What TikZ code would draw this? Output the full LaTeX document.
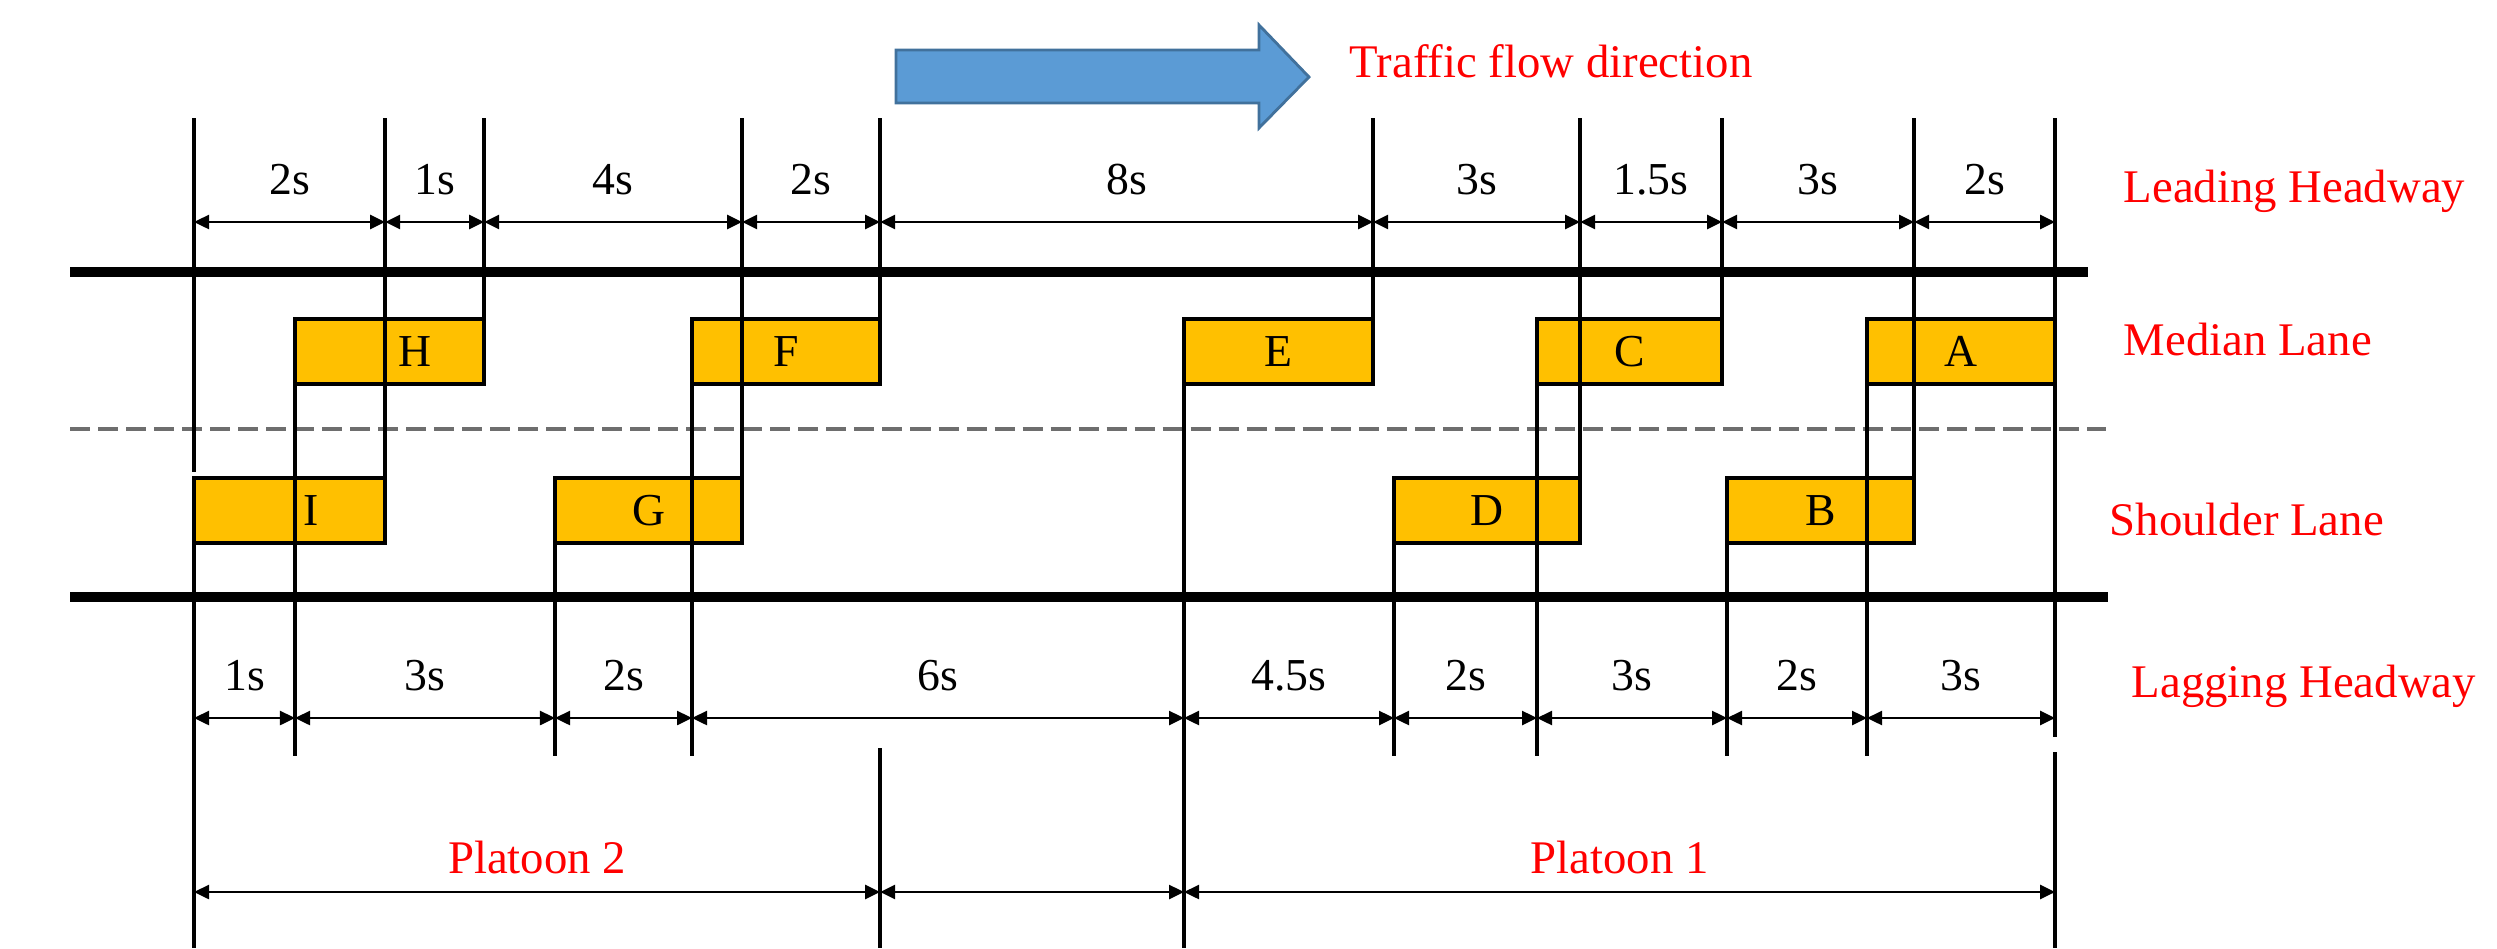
\documentclass[tikz,border=0pt]{standalone}
\usepackage{fontspec}
\setmainfont{Liberation Serif}
\usetikzlibrary{arrows.meta,positioning}
\definecolor{carfill}{HTML}{FFC000}
\definecolor{flowblue}{HTML}{5B9BD5}
\definecolor{flowedge}{HTML}{41719C}
\definecolor{lanegray}{HTML}{6E6E6E}

\begin{document}
\begin{tikzpicture}[x=0.01cm, y=-0.01cm, >={Triangle[length=1.5mm,width=1.4mm]},
  car/.style={draw, line width=1.3pt, fill=carfill, minimum height=0.65cm, anchor=south west,
    inner sep=0pt, outer sep=0pt, font=\fontsize{13}{15}\selectfont},
  vl/.style={line width=1.3pt},
  road/.style={line width=2.8pt},
  lane/.style={draw=lanegray, line width=1.1pt, dash pattern=on 2mm off 0.8mm},
  dim/.style={<->, line width=0.7pt},
  num/.style={midway, anchor=base, yshift=0.27cm, font=\fontsize{13}{15}\selectfont},
  ptag/.style={midway, anchor=base, yshift=0.19cm, text=red, font=\fontsize{13.3}{16}\selectfont},
  tag/.style={anchor=base west, inner sep=0pt, text=red, font=\fontsize{13.3}{16}\selectfont}]
\useasboundingbox (0,0) rectangle (2497,948);
\coordinate (yt) at (0,118); \coordinate (lt) at (0,222);
\coordinate (lb) at (0,718); \coordinate (le) at (0,756);
\coordinate (pl) at (0,892); \coordinate (bot) at (0,948);
\coordinate (ya) at (0,737); \coordinate (yb) at (0,752); \coordinate (yc) at (0,748);

% road edges and lane marking
\draw[road] (70,272) -- (2088,272);
\draw[road] (70,597) -- (2108,597);
\draw[lane] (70,429) -- (2106,429);

% vehicles
\node[car, minimum width=1.91cm] (I) at (194,543) {\hspace*{4.4mm}I};
\node[car, minimum width=1.89cm] (H) at (295,384) {\hspace*{5mm}H};
\node[car, minimum width=1.87cm] (G) at (555,543) {G};
\node[car, minimum width=1.88cm] (F) at (692,384) {F};
\node[car, minimum width=1.89cm] (E) at (1184,384) {E};
\node[car, minimum width=1.86cm] (D) at (1394,543) {D};
\node[car, minimum width=1.85cm] (C) at (1537,384) {C};
\node[car, minimum width=1.87cm] (B) at (1727,543) {B};
\node[car, minimum width=1.88cm] (A) at (1867,384) {A};

% fronts up, rears down
\foreach \v in {I,H,G,F,E,D,C,B,A}
  \draw[vl] (\v.south east) -- (\v.south east |- yt);
\foreach \v in {H,G,F,D,C,B,A}
  \draw[vl] (\v.south west) -- (\v.south west |- le);
\draw[vl] (I.south west) -- (I.south west |- bot);
\draw[vl] (E.south west) -- (E.south west |- bot);
\draw[vl] ([yshift=0.06cm]I.north west) -- (I.north west |- yt);
\draw[vl] (A.south east) -- (A.south east |- ya);
\draw[vl] (A.south east |- yb) -- (A.south east |- bot);
\draw[vl] (F.south east |- yc) -- (F.south east |- bot);

% leading headways
\foreach \a/\b/\t in {I.west/I.east/2s, I.east/H.east/1s, H.east/G.east/4s, G.east/F.east/2s,
    F.east/E.east/8s, E.east/D.east/3s, D.east/C.east/1.5s, C.east/B.east/3s, B.east/A.east/2s}
  \draw[dim] (\a |- lt) -- node[num] {\t} (\b |- lt);

% lagging headways
\foreach \a/\b/\t in {I.west/H.west/1s, H.west/G.west/3s, G.west/F.west/2s, F.west/E.west/6s,
    E.west/D.west/4.5s, D.west/C.west/2s, C.west/B.west/3s, B.west/A.west/2s, A.west/A.east/3s}
  \draw[dim] (\a |- lb) -- node[num] {\t} (\b |- lb);

% platoons
\draw[dim] (I.west |- pl) -- node[ptag] {Platoon 2} (F.east |- pl);
\draw[dim] (F.east |- pl) -- (E.west |- pl);
\draw[dim] (E.west |- pl) -- node[ptag] {Platoon 1} (A.east |- pl);

% flow arrow
\draw[flowedge, fill=flowblue, line width=0.8pt] (896,50) -- (1259,50) -- (1259,25) -- (1309,77)
  -- (1259,128) -- (1259,103) -- (896,103) -- cycle;
\node[tag] (flow) at (1349,77) {Traffic flow direction};

\node[tag] (lead) at (2123,202) {Leading Headway};
\node[tag] (med) at (2123,355) {Median Lane};
\node[tag] (shd) at (2109,535) {Shoulder Lane};
\node[tag] (lag) at (2131,697) {Lagging Headway};
\end{tikzpicture}
\end{document}
